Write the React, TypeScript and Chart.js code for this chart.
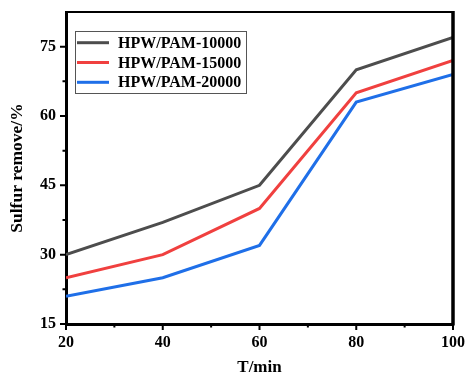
import React, { useEffect, useRef } from "react";
import { Chart, registerables } from "chart.js";

Chart.register(...registerables);

const timeMin = [20, 40, 60, 80, 100];
const hpwPam10000 = [30, 37, 45, 70, 77];
const hpwPam15000 = [25, 30, 40, 65, 72];
const hpwPam20000 = [21, 25, 32, 63, 69];
const seriesNames = ["HPW/PAM-10000", "HPW/PAM-15000", "HPW/PAM-20000"];
const seriesColors = ["#4d4d4d", "#f0403f", "#1f6fe8"];
const xMajorTicks = [20, 40, 60, 80, 100];
const xMinorTicks = [30, 50, 70, 90];
const yMajorTicks = [15, 30, 45, 60, 75];
const yMinorTicks = [22.5, 37.5, 52.5, 67.5];

const FONT = "'Liberation Serif', 'Times New Roman', serif";

const framePlugin = {
  id: "frameAndTicks",
  afterDraw(chart: any) {
    const { ctx, chartArea } = chart;
    const { left, right, top, bottom } = chartArea;
    const xs = chart.scales.x;
    const ys = chart.scales.y;
    ctx.save();
    ctx.strokeStyle = "#000";
    ctx.lineWidth = 2;
    ctx.beginPath();
    ctx.moveTo(left, top);
    ctx.lineTo(right, top);
    ctx.stroke();
    ctx.lineWidth = 3.5;
    ctx.beginPath();
    ctx.moveTo(right, top - 1);
    ctx.lineTo(right, bottom + 1.5);
    ctx.stroke();
    ctx.lineWidth = 2;
    ctx.beginPath();
    xMajorTicks.forEach((v) => {
      const px = xs.getPixelForValue(v);
      ctx.moveTo(px, bottom);
      ctx.lineTo(px, bottom + 6);
    });
    xMinorTicks.forEach((v) => {
      const px = xs.getPixelForValue(v);
      ctx.moveTo(px, bottom);
      ctx.lineTo(px, bottom + 3.5);
    });
    yMajorTicks.forEach((v) => {
      const py = ys.getPixelForValue(v);
      ctx.moveTo(left, py);
      ctx.lineTo(left - 6, py);
    });
    yMinorTicks.forEach((v) => {
      const py = ys.getPixelForValue(v);
      ctx.moveTo(left, py);
      ctx.lineTo(left - 3.5, py);
    });
    ctx.stroke();

    const bx = 75, by = 31, bw = 171, bh = 62;
    ctx.lineWidth = 1;
    ctx.strokeStyle = "#555";
    ctx.strokeRect(bx + 0.5, by + 0.5, bw, bh);
    ctx.font = `bold 16px ${FONT}`;
    ctx.textBaseline = "middle";
    ctx.textAlign = "left";
    const rows = [42.7, 62.5, 82.3];
    chart.data.datasets.forEach((ds: any, i: number) => {
      const y = rows[i];
      ctx.strokeStyle = ds.borderColor;
      ctx.lineWidth = 3;
      ctx.beginPath();
      ctx.moveTo(77, y);
      ctx.lineTo(109, y);
      ctx.stroke();
      ctx.fillStyle = "#000";
      ctx.fillText(ds.label, 118, y + 1);
    });
    ctx.restore();
  },
};

export default function App() {
  const ref = useRef<HTMLCanvasElement | null>(null);
  useEffect(() => {
    if (!ref.current) return;
    const seriesValues = [hpwPam10000, hpwPam15000, hpwPam20000];
    const chart = new Chart(ref.current, {
      type: "line",
      data: {
        datasets: seriesValues.map((vals, i) => ({
          label: seriesNames[i],
          data: timeMin.map((t, j) => ({ x: t, y: vals[j] })),
          borderColor: seriesColors[i],
          backgroundColor: seriesColors[i],
          borderWidth: 3,
          pointRadius: 0,
          tension: 0,
        })),
      },
      options: {
        responsive: false,
        animation: false,
        events: [],
        layout: { padding: { left: 0, top: 12, right: 13, bottom: 0 } },
        plugins: { legend: { display: false }, tooltip: { enabled: false } },
        scales: {
          x: {
            type: "linear",
            min: 20,
            max: 100,
            afterBuildTicks: (s: any) => {
              s.ticks = xMajorTicks.map((v) => ({ value: v }));
            },
            afterFit: (s: any) => {
              s.height = 50;
              s.paddingLeft = 0;
              s.paddingRight = 0;
            },
            grid: { display: false, drawTicks: false },
            border: { display: true, width: 3, color: "#000" },
            ticks: {
              color: "#000",
              padding: 9,
              maxRotation: 0,
              font: { family: FONT, size: 16, weight: "bold" },
            },
            title: {
              display: true,
              text: "T/min",
              color: "#000",
              padding: { top: 0, bottom: -2.5 },
              font: { family: FONT, size: 17, weight: "bold", lineHeight: 1 },
            },
          },
          y: {
            type: "linear",
            min: 15,
            max: 82.5,
            afterBuildTicks: (s: any) => {
              s.ticks = yMajorTicks.map((v) => ({ value: v }));
            },
            afterFit: (s: any) => {
              s.width = 66;
              s.paddingTop = 0;
              s.paddingBottom = 0;
            },
            grid: { display: false, drawTicks: false },
            border: { display: true, width: 3, color: "#000" },
            ticks: {
              color: "#000",
              padding: 10,
              font: { family: FONT, size: 16, weight: "bold" },
            },
            title: {
              display: true,
              text: "Sulfur remove/%",
              color: "#000",
              padding: { top: 8, bottom: 0 },
              font: { family: FONT, size: 17.5, weight: "bold", lineHeight: 1.1 },
            },
          },
        },
      },
      plugins: [framePlugin],
    });
    return () => chart.destroy();
  }, []);
  return (
    <div style={{ position: "fixed", left: 0, top: 0, width: 466, height: 374, background: "#fff" }}>
      <canvas ref={ref} width={466} height={374} style={{ display: "block" }} />
    </div>
  );
}
